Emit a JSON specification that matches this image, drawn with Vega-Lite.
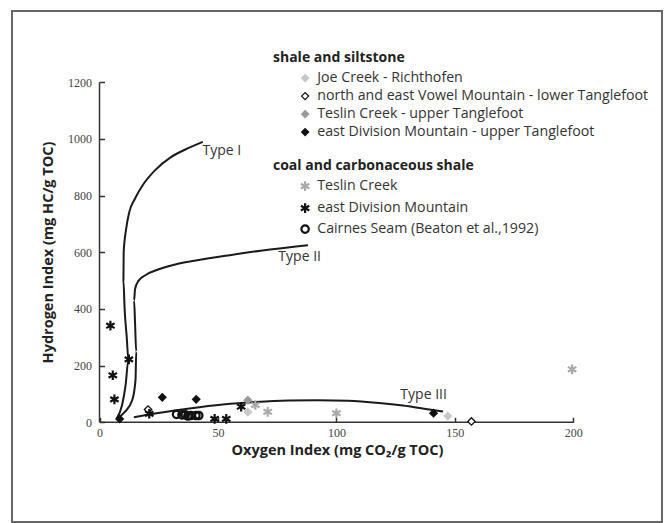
{
  "$schema": "https://vega.github.io/schema/vega-lite/v6.json",
  "width": 650,
  "height": 511,
  "autosize": {"type": "none"},
  "padding": {"left": 12, "top": 11, "right": 5, "bottom": 1},
  "background": "white",
  "config": {
    "view": {"stroke": "#666666", "strokeWidth": 2},
    "font": "Open Sans",
    "axis": {"grid": false, "domain": false}
  },
  "datasets": {
    "axislines": [
      {"x": 0, "y": 0, "x2": 200, "y2": 0},
      {"x": 0, "y": 0, "x2": 0, "y2": 1200}
    ],
    "curves": [
      {"curve": "Type I", "i": 1, "x": 7.2, "y": 12},
      {"curve": "Type I", "i": 2, "x": 9.5, "y": 60},
      {"curve": "Type I", "i": 3, "x": 11, "y": 130},
      {"curve": "Type I", "i": 4, "x": 12.2, "y": 220},
      {"curve": "Type I", "i": 5, "x": 11.5, "y": 300},
      {"curve": "Type I", "i": 6, "x": 10.6, "y": 400},
      {"curve": "Type I", "i": 7, "x": 10.1, "y": 500},
      {"curve": "Type I", "i": 8, "x": 10.2, "y": 600},
      {"curve": "Type I", "i": 9, "x": 11.2, "y": 680},
      {"curve": "Type I", "i": 10, "x": 12.5, "y": 740},
      {"curve": "Type I", "i": 11, "x": 15, "y": 790},
      {"curve": "Type I", "i": 12, "x": 18.5, "y": 840},
      {"curve": "Type I", "i": 13, "x": 23.5, "y": 890},
      {"curve": "Type I", "i": 14, "x": 30, "y": 935},
      {"curve": "Type I", "i": 15, "x": 36, "y": 962},
      {"curve": "Type I", "i": 16, "x": 43.6, "y": 990},
      {"curve": "Type II", "i": 1, "x": 7.2, "y": 12},
      {"curve": "Type II", "i": 2, "x": 10.5, "y": 35},
      {"curve": "Type II", "i": 3, "x": 13.8, "y": 78},
      {"curve": "Type II", "i": 4, "x": 15.2, "y": 150},
      {"curve": "Type II", "i": 5, "x": 15.5, "y": 250},
      {"curve": "Type II", "i": 6, "x": 15, "y": 350},
      {"curve": "Type II", "i": 7, "x": 14.6, "y": 430},
      {"curve": "Type II", "i": 8, "x": 15, "y": 470},
      {"curve": "Type II", "i": 9, "x": 16.5, "y": 500},
      {"curve": "Type II", "i": 10, "x": 19.5, "y": 520},
      {"curve": "Type II", "i": 11, "x": 25, "y": 540},
      {"curve": "Type II", "i": 12, "x": 32, "y": 557},
      {"curve": "Type II", "i": 13, "x": 40, "y": 570},
      {"curve": "Type II", "i": 14, "x": 55, "y": 590},
      {"curve": "Type II", "i": 15, "x": 72, "y": 610},
      {"curve": "Type II", "i": 16, "x": 88, "y": 625},
      {"curve": "Type III", "i": 1, "x": 14.5, "y": 18},
      {"curve": "Type III", "i": 2, "x": 24, "y": 32},
      {"curve": "Type III", "i": 3, "x": 38, "y": 49},
      {"curve": "Type III", "i": 4, "x": 52, "y": 63},
      {"curve": "Type III", "i": 5, "x": 66, "y": 72},
      {"curve": "Type III", "i": 6, "x": 80, "y": 77},
      {"curve": "Type III", "i": 7, "x": 92, "y": 78},
      {"curve": "Type III", "i": 8, "x": 105, "y": 76},
      {"curve": "Type III", "i": 9, "x": 118, "y": 68},
      {"curve": "Type III", "i": 10, "x": 128, "y": 59},
      {"curve": "Type III", "i": 11, "x": 137, "y": 48},
      {"curve": "Type III", "i": 12, "x": 145, "y": 38}
    ],
    "labels": [
      {"label": "Type I", "x": 43.5, "y": 957},
      {"label": "Type II", "x": 75.5, "y": 583},
      {"label": "Type III", "x": 127, "y": 96}
    ],
    "shale": [
      {"site": "Joe Creek - Richthofen", "x": 62.6, "y": 36},
      {"site": "Joe Creek - Richthofen", "x": 147, "y": 22},
      {"site": "north and east Vowel Mountain - lower Tanglefoot", "x": 20.5, "y": 45},
      {"site": "north and east Vowel Mountain - lower Tanglefoot", "x": 157, "y": 3},
      {"site": "Teslin Creek - upper Tanglefoot", "x": 62.6, "y": 78},
      {"site": "east Division Mountain - upper Tanglefoot", "x": 8.5, "y": 12},
      {"site": "east Division Mountain - upper Tanglefoot", "x": 26.5, "y": 88},
      {"site": "east Division Mountain - upper Tanglefoot", "x": 40.8, "y": 81},
      {"site": "east Division Mountain - upper Tanglefoot", "x": 141, "y": 32}
    ],
    "coal": [
      {"site": "Teslin Creek", "x": 65.8, "y": 61},
      {"site": "Teslin Creek", "x": 71, "y": 37},
      {"site": "Teslin Creek", "x": 100, "y": 32},
      {"site": "Teslin Creek", "x": 199.5, "y": 187},
      {"site": "east Division Mountain", "x": 4.6, "y": 341},
      {"site": "east Division Mountain", "x": 5.6, "y": 166},
      {"site": "east Division Mountain", "x": 6.3, "y": 81},
      {"site": "east Division Mountain", "x": 12.4, "y": 222},
      {"site": "east Division Mountain", "x": 21, "y": 30},
      {"site": "east Division Mountain", "x": 48.6, "y": 12},
      {"site": "east Division Mountain", "x": 53.5, "y": 12},
      {"site": "east Division Mountain", "x": 59.8, "y": 55},
      {"site": "Cairnes Seam (Beaton et al.,1992)", "x": 32.5, "y": 28},
      {"site": "Cairnes Seam (Beaton et al.,1992)", "x": 34.8, "y": 26},
      {"site": "Cairnes Seam (Beaton et al.,1992)", "x": 36.2, "y": 26},
      {"site": "Cairnes Seam (Beaton et al.,1992)", "x": 37.3, "y": 22},
      {"site": "Cairnes Seam (Beaton et al.,1992)", "x": 38.5, "y": 24},
      {"site": "Cairnes Seam (Beaton et al.,1992)", "x": 40.7, "y": 24},
      {"site": "Cairnes Seam (Beaton et al.,1992)", "x": 41.9, "y": 24}
    ]
  },
  "layer": [
    {
      "data": {"name": "axislines"},
      "mark": {"type": "rule", "color": "#333333", "strokeWidth": 1.5},
      "encoding": {
        "x": {
          "field": "x", "type": "quantitative",
          "scale": {"domain": [-36.94, 237.44], "nice": false, "zero": false},
          "axis": {
            "values": [0, 50, 100, 150, 200],
            "format": "d",
            "offset": -99.7,
            "tickSize": -5,
            "tickColor": "#333333",
            "tickWidth": 1.5,
            "labelPadding": 10,
            "labelFont": "Liberation Serif",
            "labelFontSize": 12,
            "labelColor": "#444444",
            "title": "Oxygen Index (mg CO₂/g TOC)",
            "titleFont": "Open Sans",
            "titleFontSize": 14.5,
            "titleFontWeight": "bold",
            "titleColor": "#222222",
            "titleBaseline": "middle",
            "titleY": 28
          }
        },
        "y": {
          "field": "y", "type": "quantitative",
          "scale": {"domain": [-351.9, 1451.7], "nice": false, "zero": false},
          "axis": {
            "values": [0, 200, 400, 600, 800, 1000, 1200],
            "format": "d",
            "offset": -87.5,
            "tickSize": -5,
            "tickColor": "#333333",
            "tickWidth": 1.5,
            "labelPadding": 13,
            "labelFont": "Liberation Serif",
            "labelFontSize": 12,
            "labelColor": "#444444",
            "title": "Hydrogen Index (mg HC/g TOC)",
            "titleFont": "Open Sans",
            "titleFontSize": 14.5,
            "titleFontWeight": "bold",
            "titleColor": "#222222",
            "titleBaseline": "middle",
            "titleX": -51.5,
            "titleY": 241
          }
        },
        "x2": {"field": "x2"},
        "y2": {"field": "y2"}
      }
    },
    {
      "data": {"name": "curves"},
      "mark": {"type": "line", "color": "#1a1a1a", "strokeWidth": 2, "interpolate": "monotone"},
      "encoding": {
        "x": {"field": "x", "type": "quantitative"},
        "y": {"field": "y", "type": "quantitative"},
        "detail": {"field": "curve"},
        "order": {"field": "i", "type": "quantitative"}
      }
    },
    {
      "data": {"name": "labels"},
      "mark": {"type": "text", "align": "left", "baseline": "middle", "fontSize": 14, "color": "#333333", "font": "Open Sans"},
      "encoding": {
        "x": {"field": "x", "type": "quantitative"},
        "y": {"field": "y", "type": "quantitative"},
        "text": {"field": "label"}
      }
    },
    {
      "data": {"name": "shale"},
      "mark": {"type": "point", "shape": "diamond", "filled": true, "size": 55, "strokeWidth": 1.3, "opacity": 1},
      "encoding": {
        "x": {"field": "x", "type": "quantitative"},
        "y": {"field": "y", "type": "quantitative"},
        "fill": {
          "field": "site", "type": "nominal",
          "scale": {
            "domain": ["Joe Creek - Richthofen", "north and east Vowel Mountain - lower Tanglefoot", "Teslin Creek - upper Tanglefoot", "east Division Mountain - upper Tanglefoot"],
            "range": ["#c8c8c8", "#ffffff", "#999999", "#111111"]
          },
          "legend": {
            "title": "shale and siltstone",
            "orient": "none", "legendX": 261, "legendY": 40,
            "symbolType": "diamond", "symbolSize": 50, "symbolOffset": 25, "labelOffset": 5,
            "symbolStrokeWidth": 1.3,
            "labelFont": "Open Sans", "labelFontSize": 14.2, "labelColor": "#333333", "labelLimit": 0,
            "titleFont": "Open Sans", "titleFontSize": 14, "titleFontWeight": "bold", "titleColor": "#222222", "titlePadding": 6, "titleLimit": 0,
            "rowPadding": 3, "padding": 0
          }
        },
        "stroke": {
          "field": "site", "type": "nominal",
          "scale": {
            "domain": ["Joe Creek - Richthofen", "north and east Vowel Mountain - lower Tanglefoot", "Teslin Creek - upper Tanglefoot", "east Division Mountain - upper Tanglefoot"],
            "range": ["#c8c8c8", "#111111", "#999999", "#111111"]
          },
          "legend": {
            "title": "shale and siltstone",
            "orient": "none", "legendX": 261, "legendY": 40,
            "symbolType": "diamond", "symbolSize": 50, "symbolOffset": 25, "labelOffset": 5,
            "symbolStrokeWidth": 1.3,
            "labelFont": "Open Sans", "labelFontSize": 14.2, "labelColor": "#333333", "labelLimit": 0,
            "titleFont": "Open Sans", "titleFontSize": 14, "titleFontWeight": "bold", "titleColor": "#222222", "titlePadding": 6, "titleLimit": 0,
            "rowPadding": 3, "padding": 0
          }
        }
      }
    },
    {
      "data": {"name": "coal"},
      "mark": {"type": "point", "filled": false, "size": 55, "strokeWidth": 2.2, "opacity": 1},
      "encoding": {
        "x": {"field": "x", "type": "quantitative"},
        "y": {"field": "y", "type": "quantitative"},
        "shape": {
          "field": "site", "type": "nominal",
          "scale": {
            "domain": ["Teslin Creek", "east Division Mountain", "Cairnes Seam (Beaton et al.,1992)"],
            "range": ["M0,-1.3L0,1.3M-1.13,-0.65L1.13,0.65M-1.13,0.65L1.13,-0.65", "M0,-1.3L0,1.3M-1.13,-0.65L1.13,0.65M-1.13,0.65L1.13,-0.65", "circle"]
          },
          "legend": {
            "title": "coal and carbonaceous shale",
            "orient": "none", "legendX": 261, "legendY": 148,
            "symbolSize": 55, "symbolOffset": 25, "labelOffset": 5,
            "symbolStrokeWidth": 2.2,
            "labelFont": "Open Sans", "labelFontSize": 14.2, "labelColor": "#333333", "labelLimit": 0,
            "titleFont": "Open Sans", "titleFontSize": 14, "titleFontWeight": "bold", "titleColor": "#222222", "titlePadding": 6, "titleLimit": 0,
            "rowPadding": 2, "padding": 0
          }
        },
        "stroke": {
          "field": "site", "type": "nominal",
          "scale": {
            "domain": ["Teslin Creek", "east Division Mountain", "Cairnes Seam (Beaton et al.,1992)"],
            "range": ["#aaaaaa", "#111111", "#111111"]
          },
          "legend": {
            "title": "coal and carbonaceous shale",
            "orient": "none", "legendX": 261, "legendY": 148,
            "symbolSize": 55, "symbolOffset": 25, "labelOffset": 5,
            "symbolStrokeWidth": 2.2,
            "labelFont": "Open Sans", "labelFontSize": 14.2, "labelColor": "#333333", "labelLimit": 0,
            "titleFont": "Open Sans", "titleFontSize": 14, "titleFontWeight": "bold", "titleColor": "#222222", "titlePadding": 6, "titleLimit": 0,
            "rowPadding": 2, "padding": 0
          }
        }
      }
    }
  ],
  "resolve": {"scale": {"fill": "independent", "stroke": "independent", "shape": "independent"}}
}
